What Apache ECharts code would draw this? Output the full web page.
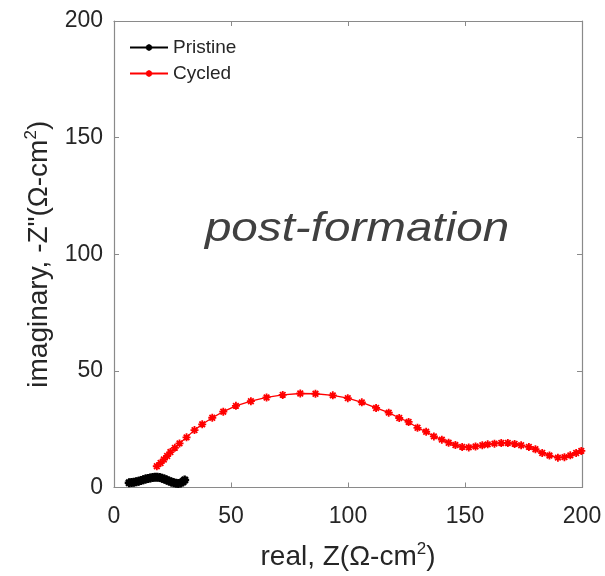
<!DOCTYPE html>
<html>
<head>
<meta charset="utf-8">
<script src="https://cdn.jsdelivr.net/npm/echarts@6/dist/echarts.min.js"></script>
<style>
html,body{margin:0;padding:0;background:#fff;}
#chart{width:605px;height:576px;}
</style>
</head>
<body>
<div id="chart"></div>
<script>
// Nyquist impedance data (real vs. imaginary, ohm-cm^2)
const pristineRe = [6.5, 7.5, 8.5, 9.5, 10.5, 11.5, 12.5, 13.5, 14.5, 15.5, 16.5, 17.5, 18.5, 19.5, 20.5, 21.5, 22.5, 23.5, 24.5, 25.5, 26.5, 27.5, 28.5, 29.5, 30.2];
const pristineIm = [2.0, 2.1, 2.3, 2.5, 2.7, 3.0, 3.3, 3.6, 3.9, 4.1, 4.3, 4.4, 4.4, 4.3, 4.0, 3.6, 3.2, 2.8, 2.4, 2.0, 1.8, 1.7, 1.9, 2.5, 3.2];

const cycledRe = [18.3, 19.9, 21.3, 22.7, 24.1, 26.0, 28.0, 31.0, 34.4, 37.7, 42.0, 46.7, 52.1, 58.5, 65.2, 72.1, 79.6, 86.1, 93.5, 99.9, 105.9, 112.0, 117.4, 121.9, 125.9, 129.7, 133.4, 136.7, 140.1, 143.0, 145.9, 148.8, 151.6, 154.5, 157.4, 159.7, 162.6, 165.5, 168.3, 171.2, 174.0, 177.3, 180.1, 183.0, 186.1, 189.7, 192.5, 195.0, 197.5, 199.7];
const cycledIm = [9.1, 10.5, 12.0, 13.5, 15.2, 17.0, 18.9, 21.5, 24.6, 27.1, 29.9, 32.5, 35.0, 37.0, 38.6, 39.7, 40.3, 40.2, 39.5, 38.3, 36.5, 34.1, 32.1, 29.8, 28.1, 25.6, 23.9, 21.9, 20.5, 19.2, 18.2, 17.4, 17.2, 17.6, 18.1, 18.5, 18.8, 19.1, 19.1, 18.7, 18.1, 17.4, 16.4, 14.8, 13.7, 12.8, 13.0, 13.8, 14.8, 15.7];

const axisMin = 0, axisMax = 200, axisStep = 50;
const seriesNames = ['Pristine', 'Cycled'];
const annotation = 'post-formation';

const FONT = '"Liberation Sans", Arial, sans-serif';
const ASTERISK = 'path://M5,0L5,10M0,5L10,5M1.5,1.5L8.5,8.5M1.5,8.5L8.5,1.5';
const BOX = '#8a8a8a';
const TXT = '#262626';

const zip = (xs, ys) => xs.map((x, i) => [x, ys[i]]);

function valueAxis(extra) {
  return Object.assign({
    type: 'value',
    min: axisMin, max: axisMax, interval: axisStep,
    splitLine: { show: false },
    axisLine: { show: true, onZero: false, lineStyle: { color: BOX, width: 1.2 } },
    axisTick: { show: true, inside: true, length: 5, lineStyle: { color: BOX } },
    axisLabel: { color: TXT, fontSize: 23, fontFamily: FONT }
  }, extra);
}

const titleStyle = {
  color: TXT, fontSize: 28, fontFamily: FONT,
  rich: { s: { fontSize: 17, fontFamily: FONT, color: TXT, padding: [0, 0, 16, 0] } }
};

const chart = echarts.init(document.getElementById('chart'), null, { renderer: 'canvas' });

chart.setOption({
  animation: false,
  backgroundColor: '#ffffff',
  grid: { left: 114, top: 21, width: 468, height: 468, containLabel: false },
  legend: {
    orient: 'vertical',
    left: 124, top: 33,
    itemWidth: 38, itemHeight: 8, itemGap: 7,
    textStyle: { color: TXT, fontSize: 19, fontFamily: FONT },
    data: seriesNames
  },
  xAxis: [
    valueAxis({
      position: 'bottom',
      axisLabel: { color: TXT, fontSize: 23, fontFamily: FONT, margin: 18 },
      name: 'real, Z(Ω-cm{s|2})',
      nameLocation: 'middle', nameGap: 53,
      nameTextStyle: titleStyle
    }),
    valueAxis({ position: 'top', axisLabel: { show: false } })
  ],
  yAxis: [
    valueAxis({
      position: 'left',
      axisLabel: { color: TXT, fontSize: 23, fontFamily: FONT, margin: 11 },
      name: 'imaginary, -Z"(Ω-cm{s|2})',
      nameLocation: 'middle', nameGap: 55,
      nameTextStyle: titleStyle
    }),
    valueAxis({ position: 'right', axisLabel: { show: false } })
  ],
  graphic: [{
    type: 'text',
    x: 357, y: 230,
    scaleX: 1.19,
    style: {
      text: annotation,
      x: 0, y: 0,
      fill: '#404040',
      font: 'italic 40px ' + FONT,
      align: 'center', verticalAlign: 'middle'
    }
  }],
  series: [
    {
      name: seriesNames[0], type: 'line',
      xAxisIndex: 0, yAxisIndex: 0,
      data: zip(pristineRe, pristineIm),
      symbol: ASTERISK, symbolSize: 9,
      lineStyle: { color: '#000', width: 2.5 },
      itemStyle: { color: '#000', borderColor: '#000', borderWidth: 2.5 },
      z: 3
    },
    {
      name: seriesNames[1], type: 'line',
      xAxisIndex: 0, yAxisIndex: 0,
      data: zip(cycledRe, cycledIm),
      symbol: ASTERISK, symbolSize: 8,
      lineStyle: { color: '#ff0000', width: 1.3 },
      itemStyle: { color: '#ff0000', borderColor: '#ff0000', borderWidth: 1.8 },
      z: 2
    }
  ]
});
</script>
</body>
</html>
